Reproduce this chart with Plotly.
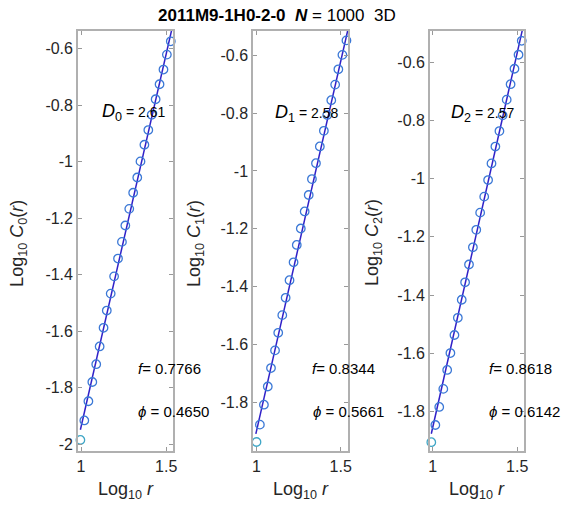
import plotly.graph_objects as go

W, H = 566, 512

# ---------------- data ----------------
log_r_0 = [0.996, 1.019, 1.043, 1.066, 1.089, 1.109, 1.132, 1.151, 1.174, 1.194, 1.217, 1.240, 1.260,
           1.283, 1.306, 1.330, 1.349, 1.372, 1.395, 1.415, 1.438, 1.461, 1.484, 1.504, 1.527]
log_c_0 = [-1.985, -1.916, -1.848, -1.780, -1.717, -1.654, -1.588, -1.527, -1.467, -1.406, -1.343, -1.284,
           -1.226, -1.167, -1.110, -1.056, -0.999, -0.940, -0.888, -0.834, -0.779, -0.726, -0.674, -0.621, -0.574]

log_r_1 = [1.000, 1.020, 1.044, 1.067, 1.086, 1.110, 1.129, 1.153, 1.173, 1.196, 1.220, 1.239, 1.263,
           1.286, 1.310, 1.329, 1.353, 1.376, 1.400, 1.420, 1.444, 1.467, 1.486, 1.510, 1.534]
log_c_1 = [-1.938, -1.878, -1.809, -1.746, -1.682, -1.621, -1.560, -1.499, -1.439, -1.378, -1.316, -1.256,
           -1.199, -1.140, -1.083, -1.028, -0.973, -0.915, -0.861, -0.806, -0.755, -0.701, -0.648, -0.598, -0.548]

log_r_2 = [0.992, 1.016, 1.039, 1.063, 1.086, 1.105, 1.129, 1.149, 1.172, 1.192, 1.215, 1.238, 1.258,
           1.281, 1.305, 1.328, 1.348, 1.371, 1.395, 1.414, 1.438, 1.461, 1.484, 1.508, 1.527]
log_c_2 = [-1.905, -1.846, -1.784, -1.722, -1.657, -1.599, -1.537, -1.478, -1.416, -1.356, -1.295, -1.236,
           -1.176, -1.117, -1.062, -1.005, -0.948, -0.890, -0.837, -0.783, -0.729, -0.676, -0.623, -0.575, -0.527]

fit_x_0 = [0.996, 1.545]
fit_y_0 = [-1.949, -0.500]
fit_x_1 = [0.996, 1.545]
fit_y_1 = [-1.910, -0.505]
fit_x_2 = [0.992, 1.545]
fit_y_2 = [-1.876, -0.453]

D_labels = ["2.61", "2.58", "2.57"]
f_labels = ["0.7766", "0.8344", "0.8618"]
phi_labels = ["0.4650", "0.5661", "0.6142"]

y_tickvals = [-2.0, -1.8, -1.6, -1.4, -1.2, -1.0, -0.8, -0.6]
y_ticktext = ["-2", "-1.8", "-1.6", "-1.4", "-1.2", "-1", "-0.8", "-0.6"]
x_tickvals = [1.0, 1.5]
x_ticktext = ["1", "1.5"]

title_name = "2011M9-1H0-2-0"
title_N = "1000"
title_dim = "3D"

# ---------------- layout helpers ----------------
panels = [
    dict(x=log_r_0, y=log_c_0, fx=fit_x_0, fy=fit_y_0, px=(77, 173), xr=[0.983, 1.541], yr=[-2.025, -0.537],
         D=(99, 113), f=(135, 370), phi=(135, 413), ylab=16),
    dict(x=log_r_1, y=log_c_1, fx=fit_x_1, fy=fit_y_1, px=(254, 350), xr=[0.981, 1.545], yr=[-1.970, -0.515],
         D=(274, 114), f=(311, 370), phi=(312, 413), ylab=195),
    dict(x=log_r_2, y=log_c_2, fx=fit_x_2, fy=fit_y_2, px=(432.7, 527.7), xr=[0.985, 1.541], yr=[-1.936, -0.493],
         D=(452, 114), f=(490, 370), phi=(490, 413), ylab=375),
]
top_px, bot_px = 31, 453

FONT = "Liberation Sans, Arial, Helvetica, sans-serif"
AX_COL = "#b0b0b0"
TXT_COL = "#262626"
MK_COL = "#3b78d6"
FIRST_COL = "#3fa6c6"
LINE_COL = "#3020c8"

fig = go.Figure()
annotations = []

def px2x(p):
    return p / W

def px2y(p):
    return 1 - p / H

for i, p in enumerate(panels):
    sfx = "" if i == 0 else str(i + 1)
    xa, ya = "x" + sfx, "y" + sfx
    # fit line
    fig.add_trace(go.Scatter(x=p["fx"], y=p["fy"], mode="lines",
                             line=dict(color=LINE_COL, width=1.5), xaxis=xa, yaxis=ya,
                             showlegend=False, hoverinfo="skip"))
    # data points
    fig.add_trace(go.Scatter(x=p["x"][1:], y=p["y"][1:], mode="markers",
                             marker=dict(symbol="circle-open", size=8.5, color=MK_COL, line=dict(width=1.3)),
                             xaxis=xa, yaxis=ya, showlegend=False, cliponaxis=False))
    fig.add_trace(go.Scatter(x=p["x"][:1], y=p["y"][:1], mode="markers",
                             marker=dict(symbol="circle-open", size=8.5, color=FIRST_COL, line=dict(width=1.3)),
                             xaxis=xa, yaxis=ya, showlegend=False, cliponaxis=False))

    common = dict(showline=True, linecolor=AX_COL, linewidth=2, mirror="allticks",
                  ticks="inside", ticklen=4, tickcolor="#999999", tickwidth=1, showgrid=False, zeroline=False,
                  tickfont=dict(family=FONT, size=16, color=TXT_COL))
    fig.update_layout(**{
        ("xaxis" + sfx): dict(domain=[px2x(p["px"][0]), px2x(p["px"][1])], range=p["xr"],
                              tickvals=x_tickvals, ticktext=x_ticktext, anchor=ya, **common),
        ("yaxis" + sfx): dict(domain=[px2y(bot_px), px2y(top_px)], range=p["yr"],
                              tickvals=y_tickvals, ticktext=y_ticktext, anchor=xa, **common),
    })

    # annotations
    annotations.append(dict(
        x=px2x(p["D"][0]), y=px2y(p["D"][1]), xref="paper", yref="paper", xanchor="left", yanchor="middle",
        showarrow=False, font=dict(family=FONT, size=18, color="black"),
        text=f"<i>D</i><sub>{i}</sub><span style='font-size:14px'> = {D_labels[i]}</span>"))
    annotations.append(dict(
        x=px2x(p["f"][0]), y=px2y(p["f"][1]), xref="paper", yref="paper", xanchor="left", yanchor="middle",
        showarrow=False, font=dict(family=FONT, size=15, color="black"),
        text=f"<i>f</i>= {f_labels[i]}"))
    annotations.append(dict(
        x=px2x(p["phi"][0]), y=px2y(p["phi"][1]), xref="paper", yref="paper", xanchor="left", yanchor="middle",
        showarrow=False, font=dict(family=FONT, size=15, color="black"),
        text=f"<i>\u03d5</i> = {phi_labels[i]}"))
    # axis titles
    annotations.append(dict(
        x=px2x((p["px"][0] + p["px"][1]) / 2), y=px2y(492), xref="paper", yref="paper",
        xanchor="center", yanchor="middle", showarrow=False,
        font=dict(family=FONT, size=18, color=TXT_COL),
        text="Log<sub>10</sub> <i>r</i>"))
    annotations.append(dict(
        x=px2x(p["ylab"]), y=px2y(244), xref="paper", yref="paper",
        xanchor="center", yanchor="middle", showarrow=False, textangle=-90,
        font=dict(family=FONT, size=18, color=TXT_COL),
        text=f"Log<sub>10</sub> <i>C</i><sub>{i}</sub>(<i>r</i>)"))

annotations.append(dict(
    x=px2x(278), y=px2y(16), xref="paper", yref="paper", xanchor="center", yanchor="middle",
    showarrow=False, font=dict(family=FONT, size=17, color="black"),
    text=f"<b>{title_name}</b>\u00a0\u00a0<b><i>N</i></b>\u00a0=\u00a0{title_N}\u00a0\u00a0{title_dim}"))

fig.update_layout(width=W, height=H, margin=dict(l=0, r=0, t=0, b=0),
                  paper_bgcolor="white", plot_bgcolor="white",
                  annotations=annotations, showlegend=False)

fig.write_html("out.html", config={"displayModeBar": False},
               post_script="document.body.style.margin='0px';")
